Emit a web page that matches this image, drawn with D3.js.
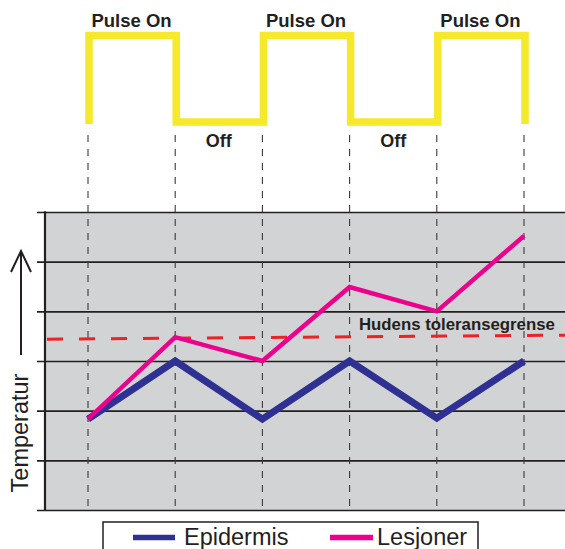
<!DOCTYPE html>
<html>
<head>
<meta charset="utf-8">
<script src="https://cdn.jsdelivr.net/npm/d3@7"></script>
<style>
  html, body { margin: 0; padding: 0; background: #ffffff; }
  svg { display: block; font-family: "Liberation Sans", Arial, Helvetica, sans-serif; }
</style>
</head>
<body>
<svg id="chart" width="565" height="549"></svg>
<script>
// ---- data ----
const timePoints = [0, 1, 2, 3, 4, 5];
const pulseStates = [1, 0, 1, 0, 1];            // state for each interval between time points
const pulseLabels = ["Pulse On", "Off", "Pulse On", "Off", "Pulse On"];
const epidermis = [1.83, 3.0, 1.83, 3.0, 1.85, 3.0];
const lesjoner  = [1.83, 3.48, 3.0, 4.49, 4.0, 5.52];
const toleranceLine = [3.44, 3.52];             // threshold at left and right edge
const toleranceLabel = "Hudens toleransegrense";
const yTicks = [0, 1, 2, 3, 4, 5, 6];
const seriesNames = ["Epidermis", "Lesjoner"];
const yTitle = "Temperatur";

// ---- layout ----
const svg = d3.select("#chart");
const plotLeft = 45, plotTop = 212, plotBottom = 510, plotRight = 565;
const ink = "#231f20";
const colors = { Epidermis: "#2e3192", Lesjoner: "#ec008c" };

const x = d3.scaleLinear().domain([0, 5]).range([88, 524]);
const y = d3.scaleLinear().domain([0, 6]).range([plotBottom, plotTop]);
const yPulse = d3.scaleLinear().domain([0, 1]).range([122, 35.5]);

// ---- pulse wave ----
const wavePts = [];
wavePts.push([x(0) + 1, yPulse(0) + 2]);
pulseStates.forEach((s, i) => {
  wavePts.push([x(i) + 1, yPulse(s)]);
  wavePts.push([x(i + 1) + 1, yPulse(s)]);
});
wavePts.push([x(5) + 1, yPulse(0) + 2]);
svg.append("path")
  .attr("d", d3.line()(wavePts))
  .attr("fill", "none")
  .attr("stroke", "#f6e82b")
  .attr("stroke-width", 7.5)
  .attr("stroke-linejoin", "miter");

pulseStates.forEach((s, i) => {
  svg.append("text")
    .attr("x", (x(i) + x(i + 1)) / 2)
    .attr("y", s === 1 ? 27 : 147)
    .attr("text-anchor", "middle")
    .attr("font-size", s === 1 ? 18.5 : 18)
    .attr("font-weight", "bold")
    .attr("fill", ink)
    .text(pulseLabels[i]);
});

// ---- plot background ----
svg.append("rect")
  .attr("x", plotLeft).attr("y", plotTop)
  .attr("width", plotRight - plotLeft).attr("height", plotBottom - plotTop)
  .attr("fill", "#d1d3d4");

// ---- gridlines via axis ----
const yAxis = d3.axisLeft(y).tickValues(yTicks).tickFormat("").tickSizeOuter(0);
const gAxis = svg.append("g").attr("transform", `translate(${plotLeft},0)`).call(yAxis);
gAxis.select(".domain").remove();
gAxis.selectAll(".tick line")
  .attr("x1", -8).attr("x2", plotRight - plotLeft)
  .attr("stroke", ink).attr("stroke-width", 1.6);

svg.append("line")
  .attr("x1", plotLeft).attr("x2", plotLeft)
  .attr("y1", plotTop - 0.8).attr("y2", plotBottom + 0.8)
  .attr("stroke", ink).attr("stroke-width", 2.2);

// ---- vertical dashed lines ----
svg.selectAll("line.vdash").data(timePoints).enter().append("line")
  .attr("class", "vdash")
  .attr("x1", d => x(d)).attr("x2", d => x(d))
  .attr("y1", 135).attr("y2", plotBottom)
  .attr("stroke", "#3a3a3a").attr("stroke-width", 1.1)
  .attr("stroke-dasharray", "7,7");

// ---- tolerance line ----
svg.append("line")
  .attr("x1", plotLeft).attr("x2", plotRight)
  .attr("y1", y(toleranceLine[0])).attr("y2", y(toleranceLine[1]))
  .attr("stroke", "#ec2227").attr("stroke-width", 3)
  .attr("stroke-dasharray", "16,16")
  .attr("stroke-dashoffset", -2);

svg.append("text")
  .attr("x", 359).attr("y", 330)
  .attr("font-size", 16.8).attr("font-weight", "bold")
  .attr("fill", ink)
  .text(toleranceLabel);

// ---- series ----
const line = d3.line().x((d, i) => x(timePoints[i])).y(d => y(d));
svg.append("path")
  .attr("d", line(epidermis))
  .attr("fill", "none").attr("stroke", colors.Epidermis)
  .attr("stroke-width", 7).attr("stroke-linejoin", "miter");
svg.append("path")
  .attr("d", line(lesjoner))
  .attr("fill", "none").attr("stroke", colors.Lesjoner)
  .attr("stroke-width", 4.5).attr("stroke-linejoin", "miter");

// ---- y title + arrow ----
svg.append("text")
  .attr("transform", `translate(28,433) rotate(-90)`)
  .attr("text-anchor", "middle")
  .attr("font-size", 23.5)
  .attr("fill", ink)
  .text(yTitle);
svg.append("line")
  .attr("x1", 21).attr("x2", 21).attr("y1", 355).attr("y2", 252)
  .attr("stroke", ink).attr("stroke-width", 2);
svg.append("path")
  .attr("d", "M11,272 L21,251 L31,272")
  .attr("fill", "none").attr("stroke", ink).attr("stroke-width", 2);

// ---- legend ----
svg.append("rect")
  .attr("x", 103).attr("y", 522).attr("width", 375).attr("height", 40)
  .attr("fill", "#ffffff").attr("stroke", ink).attr("stroke-width", 1.5);
const legendX = [{ x1: 133, x2: 175, tx: 184 }, { x1: 330, x2: 373, tx: 377 }];
seriesNames.forEach((name, i) => {
  svg.append("line")
    .attr("x1", legendX[i].x1).attr("x2", legendX[i].x2)
    .attr("y1", 537.5).attr("y2", 537.5)
    .attr("stroke", colors[name]).attr("stroke-width", 5.5);
  svg.append("text")
    .attr("x", legendX[i].tx).attr("y", 545)
    .attr("font-size", 23.5).attr("fill", ink)
    .text(name);
});
</script>
</body>
</html>
